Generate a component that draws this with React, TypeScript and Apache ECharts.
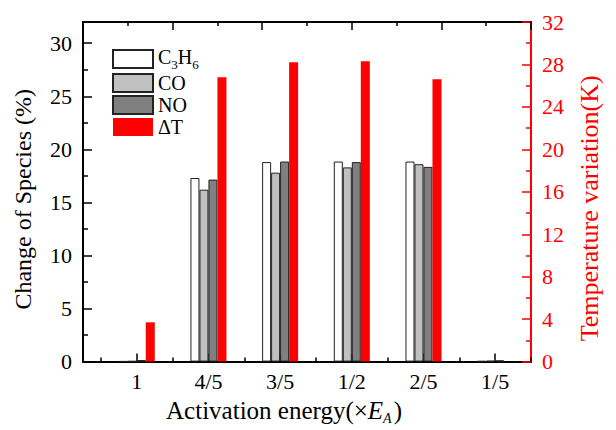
import React, { useEffect, useRef } from 'react';
import * as echarts from 'echarts';

const categories = ['1', '4/5', '3/5', '1/2', '2/5', '1/5'];
const xPositions = [1, 2, 3, 4, 5, 6];
const xMinorTicks = [0.5, 1.5, 2.5, 3.5, 4.5, 5.5, 6.5];
const c3h6 = [0.03, 17.3, 18.8, 18.85, 18.85, 0.05];
const co = [0.05, 16.2, 17.8, 18.3, 18.6, 0.08];
const no = [0.15, 17.15, 18.85, 18.8, 18.35, 0.12];
const deltaT = [3.7, 26.8, 28.2, 28.3, 26.6, 0];
const leftTicks = [0, 5, 10, 15, 20, 25, 30];
const leftMinorTicks = [2.5, 7.5, 12.5, 17.5, 22.5, 27.5];

const FONT = 'Liberation Serif';

export default function App() {
  const ref = useRef<HTMLDivElement>(null);
  useEffect(() => {
    if (!ref.current) return;
    const chart = echarts.init(ref.current, null, { renderer: 'svg' });
    const pts = (vals: number[]) => xPositions.map((x, i) => [x, vals[i]]);
    const barBase = {
      type: 'bar',
      xAxisIndex: 0,
      barWidth: 9,
      barGap: '0%',
    };
    chart.setOption({
      animation: false,
      textStyle: { fontFamily: FONT },
      grid: { left: 83, right: 85, top: 22, bottom: 67 },
      legend: {
        orient: 'vertical',
        left: 107,
        top: 42,
        itemWidth: 40,
        itemHeight: 18,
        itemGap: 2,
        icon: 'rect',
        textStyle: {
          fontFamily: FONT,
          fontSize: 20,
          color: '#000',
          rich: {
            n: { fontFamily: FONT, fontSize: 20, lineHeight: 20, verticalAlign: 'top', color: '#000' },
            s: { fontFamily: FONT, fontSize: 13, padding: [11, 0, 0, 0], verticalAlign: 'top', color: '#000' },
          },
        },
        data: [
          { name: 'C3H6', textStyle: { padding: [5, 0, 5, 0] } },
          { name: 'CO' },
          { name: 'NO' },
          { name: 'ΔT' },
        ],
        formatter: (name: string) =>
          name === 'C3H6' ? '{n|C}{s|3}{n|H}{s|6}' : name,
      },
      xAxis: [
        {
          type: 'value',
          position: 'bottom',
          min: 0.25,
          max: 6.5,
          axisLine: { show: true, onZero: false, lineStyle: { color: '#000', width: 2 } },
          axisTick: { show: true, inside: true, length: 8, customValues: xPositions, lineStyle: { color: '#000', width: 1.5 } },
          axisLabel: {
            customValues: xPositions,
            formatter: (v: number) => categories[Math.round(v) - 1] ?? '',
            fontFamily: FONT,
            fontSize: 22,
            color: '#000',
            margin: 9,
          },
          splitLine: { show: false },
          name: 'Activation energy(×{i|E}{s|A})',
          nameLocation: 'middle',
          nameGap: 32,
          nameTextStyle: {
            fontFamily: FONT,
            fontSize: 25,
            color: '#000',
            padding: [0, 46, 0, 0],
            rich: {
              i: { fontFamily: FONT, fontSize: 25, fontStyle: 'italic', color: '#000' },
              s: { fontFamily: FONT, fontSize: 14, fontStyle: 'italic', padding: [16, 2, 0, 0], color: '#000' },
            },
          },
        },
        {
          type: 'value',
          position: 'top',
          min: 0,
          max: 10,
          interval: 2,
          axisLine: { show: true, onZero: false, lineStyle: { color: '#000', width: 2 } },
          axisTick: { show: true, inside: true, length: 8, lineStyle: { color: '#000', width: 1.5 } },
          minorTick: { show: true, splitNumber: 2, length: 4, lineStyle: { color: '#000', width: 1.5 } },
          axisLabel: { show: false },
          splitLine: { show: false },
        },
        {
          type: 'value',
          position: 'bottom',
          min: 0.25,
          max: 6.5,
          axisLine: { show: false, onZero: false },
          axisTick: { show: true, inside: true, length: 4, customValues: xMinorTicks, lineStyle: { color: '#000', width: 1.5 } },
          axisLabel: { show: false },
          splitLine: { show: false },
        },
      ],
      yAxis: [
        {
          type: 'value',
          position: 'left',
          min: 0,
          max: 32,
          axisLine: { show: true, onZero: false, lineStyle: { color: '#000', width: 2 } },
          axisTick: { show: true, inside: true, length: 9, customValues: leftTicks, lineStyle: { color: '#000', width: 1.5 } },
          axisLabel: { customValues: leftTicks, fontFamily: FONT, fontSize: 22, color: '#000', margin: 11 },
          splitLine: { show: false },
          name: 'Change of Species (%)',
          nameLocation: 'middle',
          nameGap: 48,
          nameTextStyle: { fontFamily: FONT, fontSize: 24, color: '#000', padding: [0, 15, 0, 0] },
        },
        {
          type: 'value',
          position: 'left',
          min: 0,
          max: 32,
          axisLine: { show: false, onZero: false },
          axisTick: { show: true, inside: true, length: 5, customValues: leftMinorTicks, lineStyle: { color: '#000', width: 1.5 } },
          axisLabel: { show: false },
          splitLine: { show: false },
        },
        {
          type: 'value',
          position: 'right',
          min: 0,
          max: 32,
          interval: 4,
          axisLine: { show: true, onZero: false, lineStyle: { color: '#ff0000', width: 2 } },
          axisTick: { show: true, inside: true, length: 9, lineStyle: { color: '#ff0000', width: 1.5 } },
          minorTick: { show: true, splitNumber: 2, length: 5, lineStyle: { color: '#ff0000', width: 1.5 } },
          axisLabel: { fontFamily: FONT, fontSize: 22, color: '#ff0000', margin: 11 },
          splitLine: { show: false },
          name: 'Temperature variation(K)',
          nameLocation: 'middle',
          nameGap: 45,
          nameTextStyle: { fontFamily: FONT, fontSize: 26, color: '#ff0000', padding: [0, 33, 0, 0] },
        },
      ],
      series: [
        { ...barBase, name: 'C3H6', yAxisIndex: 0, data: pts(c3h6), itemStyle: { color: '#ffffff', borderColor: '#222', borderWidth: 1 } },
        { ...barBase, name: 'CO', yAxisIndex: 0, data: pts(co), itemStyle: { color: '#c0c0c0', borderColor: '#222', borderWidth: 1 } },
        { ...barBase, name: 'NO', yAxisIndex: 0, data: pts(no), itemStyle: { color: '#808080', borderColor: '#222', borderWidth: 1 } },
        { ...barBase, name: 'ΔT', yAxisIndex: 2, data: pts(deltaT), itemStyle: { color: '#ff0000' } },
      ],
    });
    return () => chart.dispose();
  }, []);
  return <div ref={ref} style={{ width: 616, height: 430, position: 'absolute', left: 0, top: 0 }} />;
}
